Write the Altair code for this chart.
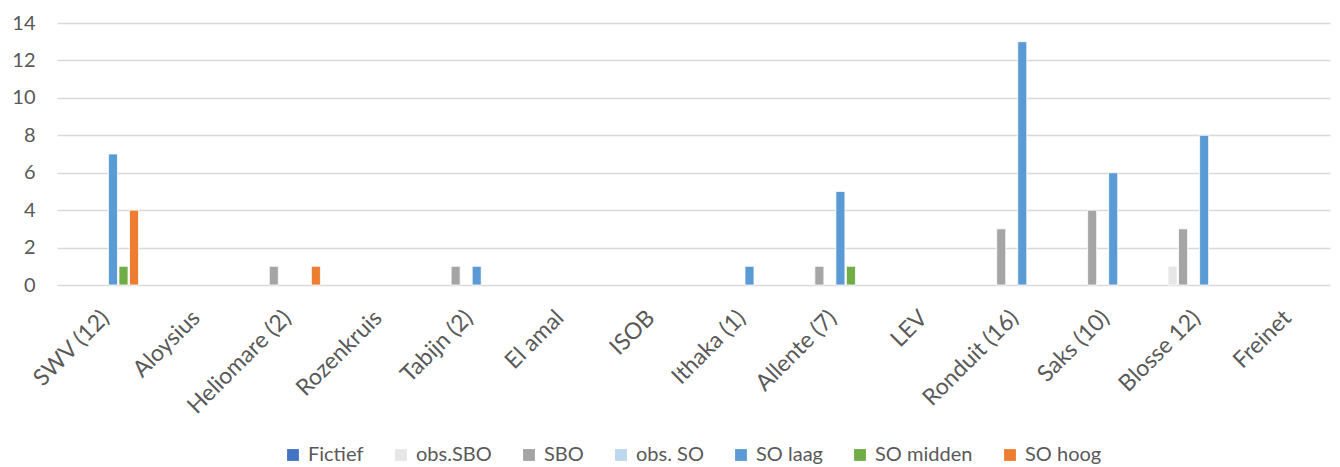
import altair as alt
import pandas as pd

categories = ["SWV (12)", "Aloysius", "Heliomare (2)", "Rozenkruis", "Tabijn (2)", "El amal",
              "ISOB", "Ithaka (1)", "Allente (7)", "LEV", "Ronduit (16)", "Saks (10)", "Blosse 12)", "Freinet"]
series = ["Fictief", "obs.SBO", "SBO", "obs. SO", "SO laag", "SO midden", "SO hoog"]
colors = ["#4472C4", "#E7E6E6", "#A5A5A5", "#BDD7EE", "#5B9BD5", "#70AD47", "#ED7D31"]

fictief   = [0, 0, 0, 0, 0, 0, 0, 0, 0, 0, 0, 0, 0, 0]
obs_sbo   = [0, 0, 0, 0, 0, 0, 0, 0, 0, 0, 0, 0, 1, 0]
sbo       = [0, 0, 1, 0, 1, 0, 0, 0, 1, 0, 3, 4, 3, 0]
obs_so    = [0, 0, 0, 0, 0, 0, 0, 0, 0, 0, 0, 0, 0, 0]
so_laag   = [7, 0, 0, 0, 1, 0, 0, 1, 5, 0, 13, 6, 8, 0]
so_midden = [1, 0, 0, 0, 0, 0, 0, 0, 1, 0, 0, 0, 0, 0]
so_hoog   = [4, 0, 1, 0, 0, 0, 0, 0, 0, 0, 0, 0, 0, 0]

values = [fictief, obs_sbo, sbo, obs_so, so_laag, so_midden, so_hoog]
rows = []
for s, vals in zip(series, values):
    for c, v in zip(categories, vals):
        rows.append({"school": c, "serie": s, "aantal": v})
df = pd.DataFrame(rows)

FONT = "Lato"
GREY = "#595959"

chart = alt.Chart(df).transform_filter("datum.aantal > 0").mark_bar(
    stroke="white", strokeWidth=0.8
).encode(
    x=alt.X("school:N", sort=categories,
            scale=alt.Scale(domain=categories, paddingInner=0.19, paddingOuter=0.095),
            axis=alt.Axis(title=None, labelAngle=-45, labelAlign="right", labelBaseline="middle",
                          labelPadding=29, labelOffset=3, ticks=False, domain=False, labelFontSize=23,
                          labelColor=GREY, labelFont=FONT, grid=False)),
    xOffset=alt.XOffset("serie:N", sort=series,
                        scale=alt.Scale(domain=series, paddingInner=0.14, paddingOuter=0.07)),
    y=alt.Y("aantal:Q", scale=alt.Scale(domain=[0, 14]),
            axis=alt.Axis(title=None, values=list(range(0, 15, 2)), ticks=False, domain=False,
                          labelPadding=22, labelFontSize=20, labelColor=GREY, labelFont=FONT,
                          gridColor="#D9D9D9", gridWidth=1.5)),
    color=alt.Color("serie:N", sort=series,
                    scale=alt.Scale(domain=series, range=colors),
                    legend=alt.Legend(title=None, orient="none", direction="horizontal",
                                      legendX=226, legendY=422, symbolType="square",
                                      symbolSize=140, symbolStrokeWidth=0, labelFontSize=20,
                                      labelColor=GREY, labelFont=FONT, columnPadding=27,
                                      labelOffset=5)),
).properties(
    width=1273, height=262,
    autosize=alt.AutoSizeParams(type="none"),
    padding={"left": 49, "top": 15, "right": 2, "bottom": 181},
).configure_view(stroke=None)

chart.save("out.html", embed_options={"renderer": "svg", "actions": False})
